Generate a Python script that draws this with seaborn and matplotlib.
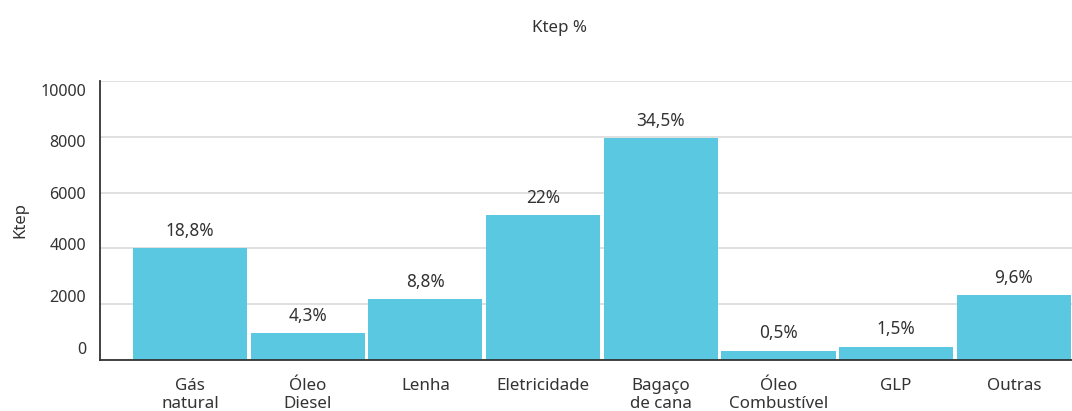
import matplotlib
matplotlib.use("Agg")
import matplotlib.pyplot as plt
import seaborn as sns
import pandas as pd

# Consumo final de energia por fonte
fontes = ["Gás\nnatural", "Óleo\nDiesel", "Lenha", "Eletricidade",
          "Bagaço\nde cana", "Óleo\nCombustível", "GLP", "Outras"]
ktep = [4000, 970, 2190, 5200, 7940, 330, 480, 2330]
participacao = ["18,8%", "4,3%", "8,8%", "22%", "34,5%", "0,5%", "1,5%", "9,6%"]
y_ticks = [0, 2000, 4000, 6000, 8000, 10000]

sns.set_theme(style="white")
plt.rcParams["font.family"] = ["Noto Sans", "DejaVu Sans"]
text_color = "#333333"
bar_color = "#5ac8e1"

df = pd.DataFrame({"fonte": fontes, "ktep": ktep})

fig = plt.figure(figsize=(10.72, 4.11), dpi=100)
ax = fig.add_axes([100 / 1072, 51 / 411, 972 / 1072, 279 / 411])

sns.barplot(data=df, x="fonte", y="ktep", color=bar_color, saturation=1,
            width=0.97, linewidth=0, ax=ax, zorder=3)

ax.set_ylim(0, 10000)
ax.set_xlim(-0.765, 7.494)

# grid lines on the main scale, no labels there
ax.set_yticks(y_ticks)
ax.set_yticklabels([])
ax.tick_params(axis="y", length=0)
ax.yaxis.grid(True, color="#dadada", linewidth=1.2, zorder=0)
ax.xaxis.grid(False)

# value labels on the left are set on a slightly compressed scale
lo, hi = 448.0, 9685.0
def fwd(p):
    return (p - lo) / (hi - lo) * 10000.0
def inv(v):
    return v * (hi - lo) / 10000.0 + lo
sec = ax.secondary_yaxis("left", functions=(fwd, inv))
sec.set_yticks(y_ticks)
sec.tick_params(axis="y", length=0, pad=10, labelsize=11.6, labelcolor=text_color)
sec.spines["left"].set_visible(False)

ax.tick_params(axis="x", length=0, pad=13, labelsize=12.2, labelcolor=text_color)
ax.set_xlabel("")
ax.set_ylabel("Ktep", fontsize=12, color=text_color)
ax.yaxis.set_label_coords(-0.074, 0.5)

for s in ["top", "right"]:
    ax.spines[s].set_visible(False)
for s in ["left", "bottom"]:
    ax.spines[s].set_color("#333333")
    ax.spines[s].set_linewidth(1.3)
    ax.spines[s].set_zorder(4)

ax.bar_label(ax.containers[0], labels=participacao, padding=6,
             fontsize=12.4, color=text_color)

fig.text(560 / 1072, 1 - 28 / 411, "Ktep %", ha="center", va="center",
         fontsize=12.2, color=text_color)

fig.savefig("out.png", dpi=100)
